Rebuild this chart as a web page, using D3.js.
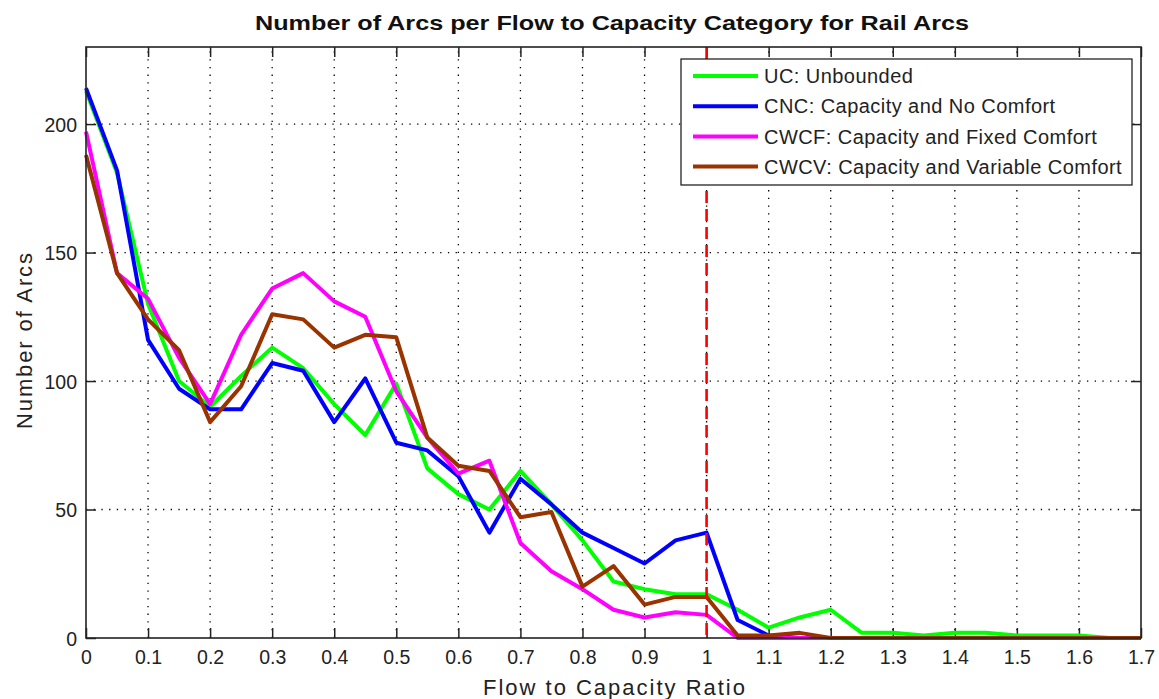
<!DOCTYPE html>
<html>
<head>
<meta charset="utf-8">
<script src="https://cdn.jsdelivr.net/npm/d3@7"></script>
<style>
  html, body { margin: 0; padding: 0; background: #fff; }
  svg { display: block; font-family: "Liberation Sans", Arial, Helvetica, sans-serif; }
</style>
</head>
<body>
<svg id="chart" width="1159" height="699"></svg>
<script>
// ---- data ----
const ratio = [0,0.05,0.1,0.15,0.2,0.25,0.3,0.35,0.4,0.45,0.5,0.55,0.6,0.65,0.7,0.75,0.8,0.85,0.9,0.95,1.0,1.05,1.1,1.15,1.2,1.25,1.3,1.35,1.4,1.45,1.5,1.55,1.6,1.65,1.7];
const ucValues   = [213,181,130,100,90,102,113,105,91,79,99,66,56,50,65,52,38,22,19,17,17,11,4,8,11,2,2,1,2,2,1,1,1,0,0];
const cncValues  = [214,182,116,97,89,89,107,104,84,101,76,73,63,41,62,52,41,35,29,38,41,7,1,0,0,0,0,0,0,0,0,0,0,0,0];
const cwcfValues = [197,142,132,109,91,118,136,142,131,125,96,78,64,69,37,26,19,11,8,10,9,0,0,0,0,0,0,0,0,0,0,0,0,0,0];
const cwcvValues = [188,142,124,112,84,98,126,124,113,118,117,78,67,65,47,49,20,28,13,16,16,1,1,2,0,0,0,0,0,0,0,0,0,0,0];
const seriesNames = ["UC: Unbounded","CNC: Capacity and No Comfort","CWCF: Capacity and Fixed Comfort","CWCV: Capacity and Variable Comfort"];
const seriesColors = ["#00ff00","#0000ff","#ff00ff","#993300"];
const xTicks = [0,0.1,0.2,0.3,0.4,0.5,0.6,0.7,0.8,0.9,1,1.1,1.2,1.3,1.4,1.5,1.6,1.7];
const yTicks = [0,50,100,150,200];
const capacityLine = 1.0;
const titleText = "Number of Arcs per Flow to Capacity Category for Rail Arcs";
const xLabel = "Flow to Capacity Ratio";
const yLabel = "Number of Arcs";

// ---- layout ----
const L = 86, R = 1141, T = 47, B = 638;
const svg = d3.select("#chart");
const x = d3.scaleLinear().domain([0, 1.7]).range([L, R]);
const y = d3.scaleLinear().domain([0, 230]).range([B, T]);
const fmt = d => (d === 0 ? "0" : d3.format("~g")(d));

// grid
const grid = svg.append("g").attr("stroke", "#000").attr("stroke-width", 1.3).attr("stroke-dasharray", "1.3,6.4");
grid.selectAll("line.v").data(xTicks.filter(d => d > 0 && d < 1.7)).join("line")
  .attr("x1", d => x(d)).attr("x2", d => x(d)).attr("y1", B).attr("y2", T);
grid.selectAll("line.h").data(yTicks.filter(d => d > 0)).join("line")
  .attr("x1", L).attr("x2", R).attr("y1", d => y(d)).attr("y2", d => y(d));

// axes (ticks inward on all four sides)
const tickLen = 10;
const axB = svg.append("g").attr("transform", `translate(0,${B})`)
  .call(d3.axisBottom(x).tickValues(xTicks).tickFormat(fmt).tickSizeInner(-tickLen).tickSizeOuter(0).tickPadding(12));
const axT = svg.append("g").attr("transform", `translate(0,${T})`)
  .call(d3.axisTop(x).tickValues(xTicks).tickFormat("").tickSizeInner(-tickLen).tickSizeOuter(0));
const axL = svg.append("g").attr("transform", `translate(${L},0)`)
  .call(d3.axisLeft(y).tickValues(yTicks).tickFormat(fmt).tickSizeInner(-tickLen).tickSizeOuter(0).tickPadding(9));
const axR = svg.append("g").attr("transform", `translate(${R},0)`)
  .call(d3.axisRight(y).tickValues(yTicks).tickFormat("").tickSizeInner(-tickLen).tickSizeOuter(0));
[axB, axT, axL, axR].forEach(a => {
  a.select(".domain").remove();
  a.selectAll(".tick line").attr("stroke", "#222").attr("stroke-width", 1.5);
  a.selectAll("text").attr("fill", "#222").style("font-size", "19.5px")
    .style("font-family", '"Liberation Sans", Arial, sans-serif');
});
axL.selectAll("text").attr("dy", "0.36em");

// data lines
const line = d3.line().x((d, i) => x(ratio[i])).y(d => y(d));
const allSeries = [ucValues, cncValues, cwcfValues, cwcvValues];
svg.append("g").selectAll("path").data(allSeries).join("path")
  .attr("d", d => line(d))
  .attr("fill", "none")
  .attr("stroke", (d, i) => seriesColors[i])
  .attr("stroke-width", 4)
  .attr("stroke-linejoin", "round");

// capacity line
svg.append("line")
  .attr("x1", x(capacityLine)).attr("x2", x(capacityLine))
  .attr("y1", T).attr("y2", B)
  .attr("stroke", "#ff0000").attr("stroke-width", 2.6).attr("stroke-dasharray", "12,6");

// box
svg.append("rect").attr("x", L).attr("y", T).attr("width", R - L).attr("height", B - T)
  .attr("fill", "none").attr("stroke", "#222").attr("stroke-width", 1.6);

// legend
const lg = svg.append("g");
lg.append("rect").attr("x", 681).attr("y", 59).attr("width", 451).attr("height", 126)
  .attr("fill", "#fff").attr("stroke", "#111").attr("stroke-width", 1.2);
seriesNames.forEach((name, i) => {
  const cy = 76 + i * 30.2;
  lg.append("line").attr("x1", 693).attr("x2", 758).attr("y1", cy).attr("y2", cy)
    .attr("stroke", seriesColors[i]).attr("stroke-width", 4);
  lg.append("text").attr("x", 764).attr("y", cy).attr("dy", "0.36em")
    .style("font-size", "20px").attr("fill", "#222").style("letter-spacing", "0.45px").text(name);
});

// title and labels
svg.append("text").attr("x", 612).attr("y", 30).attr("text-anchor", "middle")
  .style("font-size", "21px").style("font-weight", "bold").attr("fill", "#111")
  .attr("textLength", 714).attr("lengthAdjust", "spacingAndGlyphs").text(titleText);
svg.append("text").attr("x", 614).attr("y", 695).attr("text-anchor", "middle")
  .style("font-size", "22px").attr("fill", "#222")
  .attr("textLength", 262).attr("lengthAdjust", "spacing").text(xLabel);
svg.append("text").attr("transform", "translate(32,341) rotate(-90)").attr("text-anchor", "middle")
  .style("font-size", "22px").attr("fill", "#222")
  .attr("textLength", 176).attr("lengthAdjust", "spacing").text(yLabel);
</script>
</body>
</html>
